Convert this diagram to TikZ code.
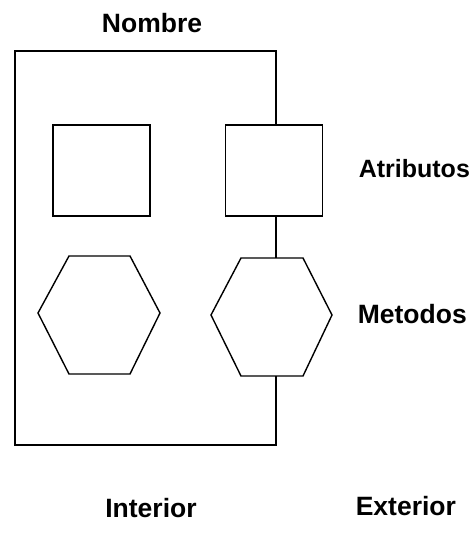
\documentclass[tikz,border=0pt]{standalone}
\usepackage{fontspec}
\setmainfont{Liberation Sans}
\begin{document}
\begin{tikzpicture}[x=1pt,y=-1pt,
  line width=1.6pt,
  lbl/.style={font=\bfseries\fontsize{26.5}{30}\selectfont, inner sep=0pt, anchor=base west},
  sq/.style={draw, minimum width=97pt, minimum height=91pt, inner sep=0pt}]
\useasboundingbox (0,0) rectangle (473,552);
% squares
\node[sq] (sqL) at (101.5,170.5) {};
\node[sq] (sqR) at (274,170.5) {};
% hexagons
\coordinate (hLt) at (99.5,256);
\coordinate (hLb) at (99.5,374);
\draw[line width=1.4pt] (69,256) -- (130,256) -- (160,313) -- (130,374) -- (69,374) -- (38,313) -- cycle;
\coordinate (hRt) at (276,258);
\coordinate (hRb) at (276,376);
\draw[line width=1.4pt] (241,258) -- (303,258) -- (332,315) -- (303,376) -- (241,376) -- (211,315) -- cycle;
% frame
\coordinate (fTR) at (276,51);
\coordinate (fTL) at (15,51);
\coordinate (fBL) at (15,445);
\coordinate (fBR) at (276,445);
\draw (sqR.north -| fTR) -- (fTR) -- (fTL) -- (fBL) -- (fBR) -- (hRb);
\draw (sqR.south -| fTR) -- (hRt);
% labels
\node[lbl, anchor=base] (nombre) at (152,32) {Nombre};
\node[lbl, font=\bfseries\fontsize{25}{30}\selectfont] (atrib) at (358,177) {Atributos};
\node[lbl] (metod) at (357,323) {Metodos};
\node[lbl, anchor=base] (inter) at (151,517) {Interior};
\node[lbl] (exter) at (355,515) {Exterior};
\end{tikzpicture}
\end{document}
